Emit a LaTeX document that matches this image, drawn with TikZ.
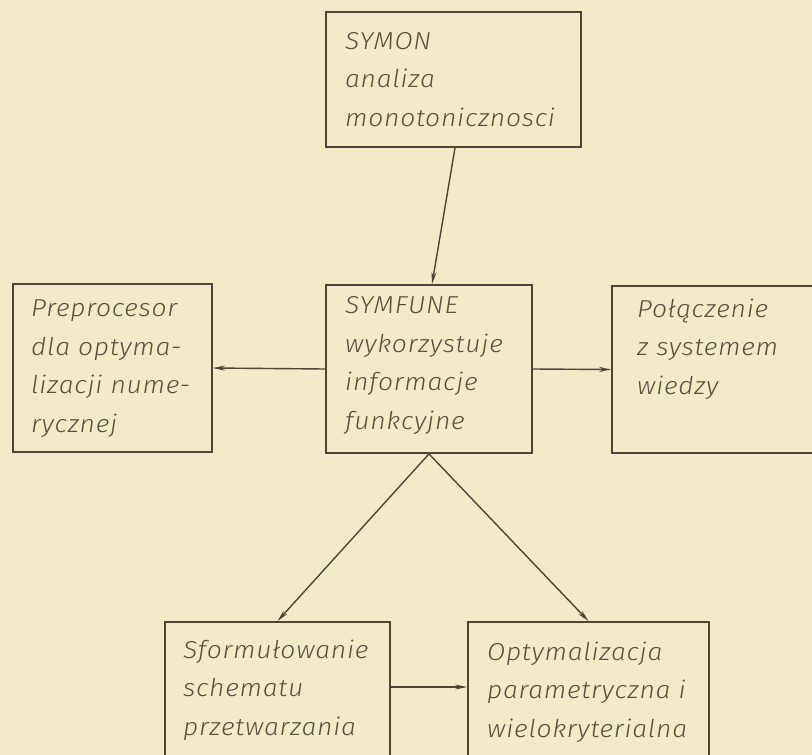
\documentclass[tikz,border=0pt]{standalone}
\usepackage{fontspec}
\newfontfamily\hand{Fira Sans Light Italic}[FakeStretch=1.08,LetterSpace=3]
\usetikzlibrary{arrows.meta}
\definecolor{paper}{RGB}{242,235,199}
\definecolor{ink}{RGB}{78,68,58}
\definecolor{txtink}{RGB}{88,80,64}
\tikzset{
  box/.style={draw=ink, line width=1.8pt, rectangle, inner sep=0pt},
  lbl/.style={anchor=base west, align=left, inner sep=0pt, text=txtink,
              font=\hand\fontsize{24.5}{38.5}\selectfont},
  arr/.style={draw=ink, line width=1.4pt, -{Stealth[length=12pt,width=5pt]}}
}
\begin{document}
\begin{tikzpicture}[x=1pt,y=-1pt]
\fill[paper] (0,0) rectangle (812,755);
\useasboundingbox (0,0) rectangle (812,755);
% boxes
\node[box, minimum width=255pt, minimum height=135pt] (symon) at (453.5,79.5) {};
\node[box, minimum width=199pt, minimum height=168pt] (pre) at (112.5,368) {};
\node[box, minimum width=206pt, minimum height=168pt] (fun) at (429,369) {};
\node[box, minimum width=230pt, minimum height=167pt] (pol) at (727,369.5) {};
\node[box, minimum width=225pt, minimum height=150pt] (sform) at (277.5,697) {};
\node[box, minimum width=241pt, minimum height=150pt] (opt) at (588.5,697) {};
% texts (anchored at the baseline of their last line)
\node[lbl] (tsymon) at (345,126) {SYMON\\analiza\\monotonicznosci};
\node[lbl] (tpre) at (31,432) {Preprocesor\\dla optyma-\\lizacji nume-\\rycznej};
\node[lbl] (tfun) at (345,429) {SYMFUNE\\wykorzystuje\\informacje\\funkcyjne};
\node[lbl] (tpol) at (637,394) {Połączenie\\z systemem\\wiedzy};
\node[lbl] (tsform) at (183,735) {Sformułowanie\\schematu\\przetwarzania};
\node[lbl] (topt) at (487,737) {Optymalizacja\\parametryczna i\\wielokryterialna};
% connectors
\draw[arr] ([xshift=1.5pt]symon.south) -- ([xshift=3pt]fun.north);
\draw[arr] (fun.west) -- (pre.east);
\draw[arr] (fun.east) -- (pol.west);
\draw[arr] (fun.south) -- (sform.north);
\draw[arr] (fun.south) -- (opt.north);
\draw[arr] ([yshift=10pt]sform.east) -- ([yshift=10pt]opt.west);
\end{tikzpicture}
\end{document}
